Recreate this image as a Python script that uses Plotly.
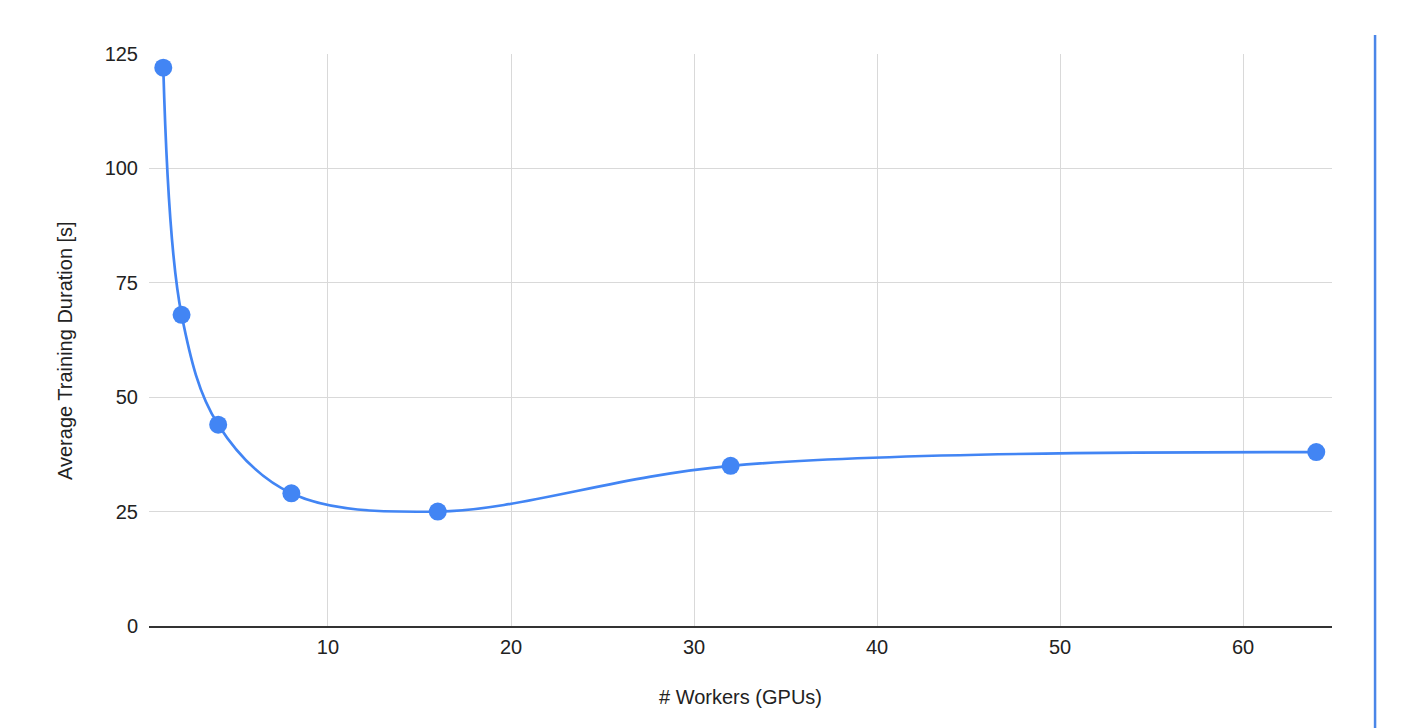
import plotly.graph_objects as go

workers = [1, 2, 4, 8, 16, 32, 64]
duration = [122, 68, 44, 29, 25, 35, 38]

x_ticks = [10, 20, 30, 40, 50, 60]
y_ticks = [0, 25, 50, 75, 100, 125]

x_title = "# Workers (GPUs)"
y_title = "Average Training Duration [s]"

fig = go.Figure()
fig.add_trace(go.Scatter(
    x=workers, y=duration, mode="lines+markers",
    line=dict(color="#4285F4", width=2.7, shape="spline", smoothing=1.0),
    marker=dict(color="#4285F4", size=18),
    showlegend=False,
))

font = dict(family="Liberation Sans, Arial, sans-serif", size=20, color="#222222")

fig.update_layout(
    width=1397, height=720,
    margin=dict(l=141, r=73, t=46, b=102),
    paper_bgcolor="white", plot_bgcolor="white",
    font=font,
    xaxis=dict(
        range=[0.22, 64.86], tickvals=x_ticks, ticktext=[str(v) for v in x_ticks],
        showgrid=True, gridcolor="#d9d9d9", gridwidth=1,
        showline=True, linecolor="#333333", linewidth=1.5,
        zeroline=False, ticks="", ticklen=0, ticklabelstandoff=2,
        tickfont=dict(size=20, color="#222222"),
    ),
    yaxis=dict(
        range=[0, 125], tickvals=y_ticks, ticktext=[str(v) for v in y_ticks],
        showgrid=True, gridcolor="#d9d9d9", gridwidth=1,
        showline=False, zeroline=False, ticks="", ticklabelstandoff=10,
        tickfont=dict(size=20, color="#222222"),
    ),
    annotations=[
        dict(text=x_title, xref="paper", yref="paper", x=0.5, y=-0.1241,
             xanchor="center", yanchor="middle", showarrow=False,
             font=dict(size=20, color="#222222")),
        dict(text=y_title, xref="paper", yref="paper", x=-0.071, y=0.4808,
             xanchor="center", yanchor="middle", showarrow=False, textangle=-90,
             font=dict(size=20, color="#222222")),
    ],
    shapes=[
        dict(type="line", xref="paper", yref="paper", x0=1.0364, x1=1.0364, y0=1.033, y1=-0.2,
             line=dict(color="#4a86e8", width=2.5)),
    ],
)

fig.write_html("out.html")
